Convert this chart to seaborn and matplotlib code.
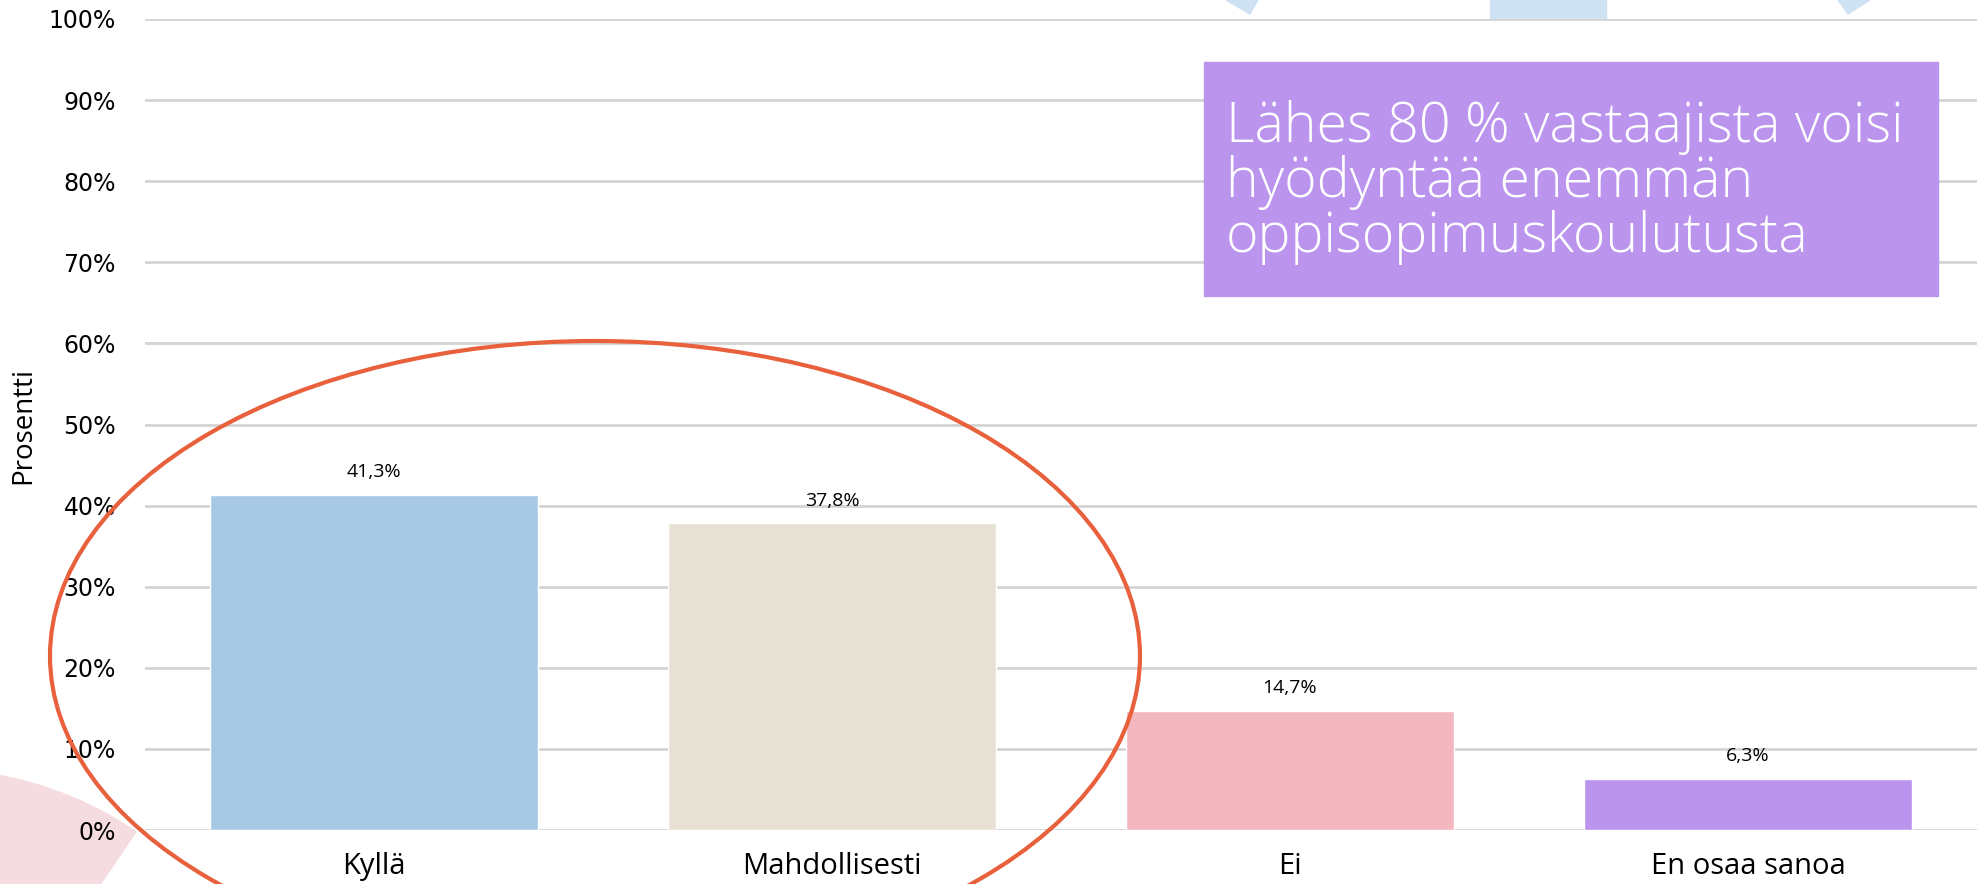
import matplotlib
matplotlib.use('Agg')
import matplotlib.pyplot as plt
import seaborn as sns
from matplotlib.patches import Ellipse, Wedge, Rectangle, Polygon
from matplotlib.transforms import Affine2D

# data
categories = ['Kyllä', 'Mahdollisesti', 'Ei', 'En osaa sanoa']
values = [41.3, 37.8, 14.7, 6.3]
value_labels = ['41,3%', '37,8%', '14,7%', '6,3%']
bar_colors = ['#A8C9E6', '#E8E1D5', '#F2B7BF', '#BB94EE']
y_ticks = list(range(0, 101, 10))
y_tick_labels = [f'{t}%' for t in y_ticks]
headline = ['Lähes 80 % vastaajista voisi', 'hyödyntää enemmän', 'oppisopimuskoulutusta']

W, H = 1977, 884
sns.set_theme(style='white')
plt.rcParams['font.family'] = ['Open Sans', 'DejaVu Sans']

fig = plt.figure(figsize=(W / 100, H / 100), dpi=100)
ax = fig.add_axes([145 / W, 54 / H, 1 - 145 / W, (830 - 19) / H])
ax.set_facecolor('none')

sns.barplot(x=categories, y=values, hue=categories, palette=bar_colors,
            legend=False, width=0.714, saturation=1, ax=ax, zorder=2)

ax.set_xlim(-0.5, 3.5)
ax.set_ylim(0, 100)
ax.set_yticks(y_ticks)
ax.set_yticklabels(y_tick_labels, fontfamily='DejaVu Sans', fontsize=17)
ax.yaxis.grid(True, color='#D4D4D4', lw=2)
ax.xaxis.grid(False)
ax.set_axisbelow(True)
for s in ax.spines.values():
    s.set_visible(False)
ax.tick_params(axis='both', length=0)
ax.tick_params(axis='y', pad=21, colors='black')
ax.tick_params(axis='x', pad=16, labelsize=21, colors='black')
ax.set_xlabel('')
ax.set_ylabel('')

for cont, lab in zip(ax.containers, value_labels):
    ax.bar_label(cont, labels=[lab], padding=10, fontsize=14, color='black')

# pixel coords, y from top
px = Affine2D().scale(1 / W, -1 / H).translate(0, 1) + fig.transFigure

fig.text(23 / W, 1 - 425 / H, 'Prosentti', rotation=90, ha='center', va='center',
         fontsize=20, color='black')

# decorations
fig.patches.append(Wedge((-68, 1132), 363, -150, -55.8, color='#F5DCE0',
                         transform=px, zorder=-1, figure=fig))
fig.patches.append(Polygon([(1226, 0), (1258, 0), (1250, 14)], closed=True, color='#CFE2F3',
                           transform=px, zorder=1, figure=fig))
fig.patches.append(Polygon([(1838, 0), (1870, 0), (1848, 14)], closed=True, color='#CFE2F3',
                           transform=px, zorder=1, figure=fig))
fig.patches.append(Rectangle((1490, 0), 116, 18, color='#CFE2F3',
                             transform=px, zorder=1, figure=fig))
fig.patches.append(Rectangle((1204, 62), 734, 234, color='#BB94EE',
                             transform=px, zorder=3, figure=fig))
fig.patches.append(Ellipse((595, 656), 1090, 630, fill=False, edgecolor='#E8603C', lw=3,
                           transform=px, zorder=3, figure=fig))

for i, line in enumerate(headline):
    fig.text(1226 / W, 1 - (142 + 55 * i) / H, line, ha='left', va='baseline',
             fontsize=40, color='white', fontweight='light', zorder=4)

fig.savefig('out.png', dpi=100)
